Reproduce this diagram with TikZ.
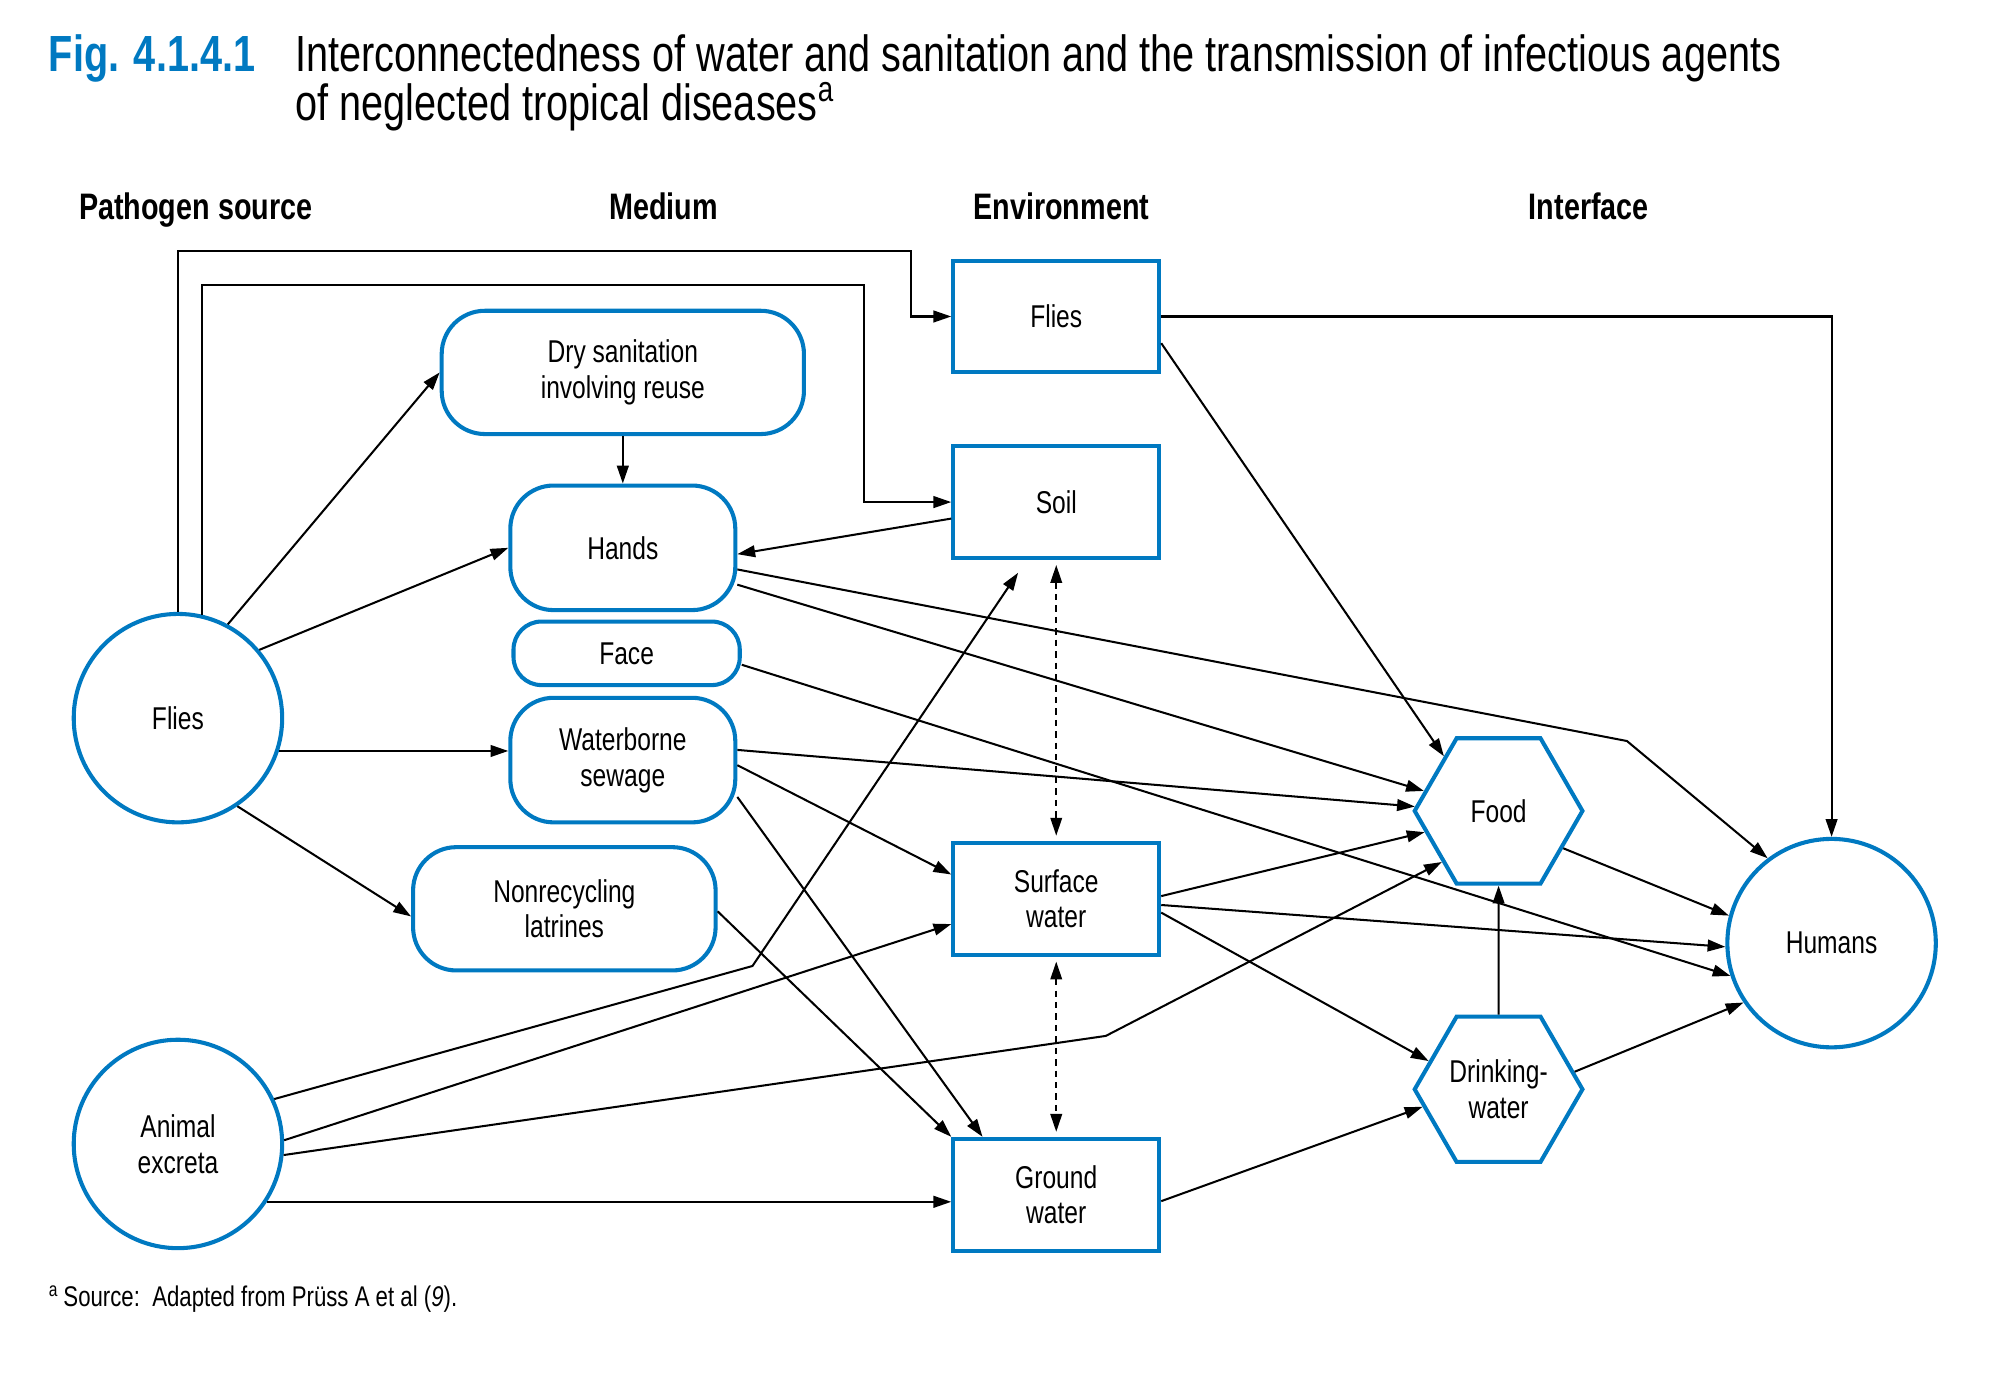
\documentclass[tikz,border=0pt]{standalone}
\usepackage{fontspec}
\setmainfont{Liberation Sans}[FakeStretch=0.78]
\usetikzlibrary{arrows.meta,shapes.geometric}
\definecolor{whoblue}{RGB}{0,121,193}
\begin{document}
\begin{tikzpicture}[x=0.5pt,y=-0.5pt,
        font=\fontsize{12.4}{14}\selectfont,
        src/.style={circle, draw=whoblue, line width=1.6pt,
                        minimum size=82pt, inner sep=0pt, align=center},
        med/.style={rectangle, rounded corners=17pt, draw=whoblue,
                        line width=1.6pt, inner sep=0pt, align=center},
        env/.style={rectangle, draw=whoblue, line width=1.6pt,
                        minimum width=81pt, minimum height=44pt, align=center},
        intf/.style={regular polygon, regular polygon sides=6,
                        draw=whoblue, line width=1.6pt, minimum size=66pt,
                        inner sep=0pt, align=center},
        txt/.style={anchor=base west, inner sep=0pt},
        hd/.style={anchor=base, inner sep=0pt,
                        font=\bfseries\fontsize{14.5}{17}\selectfont},
        arr/.style={-{Triangle[length=7pt,width=4.6pt]}, line width=0.8pt},
        dsh/.style={{Triangle[length=7pt,width=4.6pt]}-{Triangle[length=7pt,width=4.6pt]},
                        line width=0.6pt, dash pattern=on 2.5pt off 2pt,
                        shorten <=2pt, shorten >=2pt}]
    \useasboundingbox (0,0) rectangle (1568,1080.5);
    % title
    \node[txt, text=whoblue, font=\bfseries\fontsize{20}{24}\selectfont]
        (fig) at (38,56) {Fig. 4.1.4.1};
    \node[txt, font=\fontsize{20}{24}\selectfont] (ttla) at (232,56)
        {Interconnectedness of water and sanitation and the transmission of infectious agents};
    \node[txt, font=\fontsize{20}{24}\selectfont] (ttlb) at (232,95)
        {of neglected tropical diseases\textsuperscript{a}};
    % column heads
    \node[hd] (hsrc) at (154,173) {Pathogen source};
    \node[hd] (hmed) at (522,173) {Medium};
    \node[hd] (henv) at (835,173) {Environment};
    \node[hd] (hint) at (1250,173) {Interface};
    % pathogen source
    \node[src] (fly) at (140,565) {Flies};
    \node[src] (anim) at (140,900) {Animal\\excreta};
    % medium
    \node[med, minimum width=142.5pt, minimum height=48.5pt] (dry) at (490,293)
        {Dry sanitation\\involving reuse};
    \node[med, minimum width=88.5pt, minimum height=49pt] (hands) at (490,431) {Hands};
    \node[med, rounded corners=11pt, minimum width=89pt, minimum height=25pt]
        (face) at (493,514) {Face};
    \node[med, minimum width=88.5pt, minimum height=49pt] (wsew) at (490,598)
        {Waterborne\\sewage};
    \node[med, minimum width=119pt, minimum height=48.5pt] (latr) at (444,715)
        {Nonrecycling\\latrines};
    % environment
    \node[env] (flE) at (831,249) {Flies};
    \node[env] (soil) at (831,395) {Soil};
    \node[env] (surf) at (831,707) {Surface\\water};
    \node[env] (gw) at (831,940) {Ground\\water};
    % interface
    \node[intf] (food) at (1179,638) {Food};
    \node[intf] (drk) at (1179,857) {Drinking-\\water};
    \node[src] (hum) at (1441,742) {Humans};
    % connectors
    \draw[arr] (fly.north) -- ++(0,-284) -| ([xshift=-16pt]flE.west) -- (flE.west);
    \draw[arr] (fly.77) -- ++(0,-259) -| ([xshift=-34.5pt]soil.west) -- (soil.west);
    \draw[arr] (fly.62) -- (dry.west);
    \draw[arr] (fly.40) -- (hands.west);
    \draw[arr] (fly.-18) -- (fly.-18 -| wsew.west);
    \draw[arr] (fly.-56) -- ([yshift=-3pt]latr.west);
    \draw[arr] (dry.south) -- (hands.north);
    \draw[arr] ([yshift=-6.5pt]soil.west) -- ([yshift=-2.5pt]hands.east);
    \draw[arr] ([yshift=-8.5pt]hands.east) -- (1280,583) -- (hum.127);
    \draw[arr] ([yshift=-14.5pt]hands.east) -- (food.165);
    \draw[arr] ([yshift=-4.5pt]face.east) -- (hum.198);
    \draw[arr] ([yshift=4pt]wsew.east) -- (food.177);
    \draw[arr] ([yshift=-2pt]wsew.east) -- ([yshift=9.5pt]surf.west);
    \draw[arr] ([yshift=-14.5pt]wsew.east) -- ([xshift=-29pt]gw.north);
    \draw[arr] ([yshift=-1pt]latr.east) -- (gw.north west);
    \draw[arr] (anim.25) -- (592,760) -- ([xshift=-15pt,yshift=-5pt]soil.south);
    \draw[arr] (anim.2) -- ([yshift=-10pt]surf.west);
    \draw[arr] (anim.-6) -- (870,815) -- (food.222);
    \draw[arr] (anim.-33) -- (anim.-33 -| gw.west);
    \draw[dsh] (soil.south) -- (surf.north);
    \draw[dsh] (surf.south) -- (gw.north);
    \draw[arr] (flE.east) -| (hum.north);
    \draw[arr] ([yshift=-10.5pt]flE.east) -- (food.135);
    \draw[arr] ([yshift=1pt]surf.east) -- (food.196);
    \draw[arr] ([yshift=-2.5pt]surf.east) -- (hum.182);
    \draw[arr] ([yshift=-5.5pt]surf.east) -- (drk.158);
    \draw[arr] ([yshift=-2.5pt]gw.east) -- (drk.193);
    \draw[arr] (drk.north) -- (food.south);
    \draw[arr] (food.-30) -- (hum.165);
    \draw[arr] (drk.13) -- (hum.214);
    % footnote
    \node[txt, font=\fontsize{11.2}{13}\selectfont] (note) at (38,1028)
        {\textsuperscript{a}\,Source:\ \ Adapted from Prüss A et al (\textit{9}).};
\end{tikzpicture}
\end{document}
